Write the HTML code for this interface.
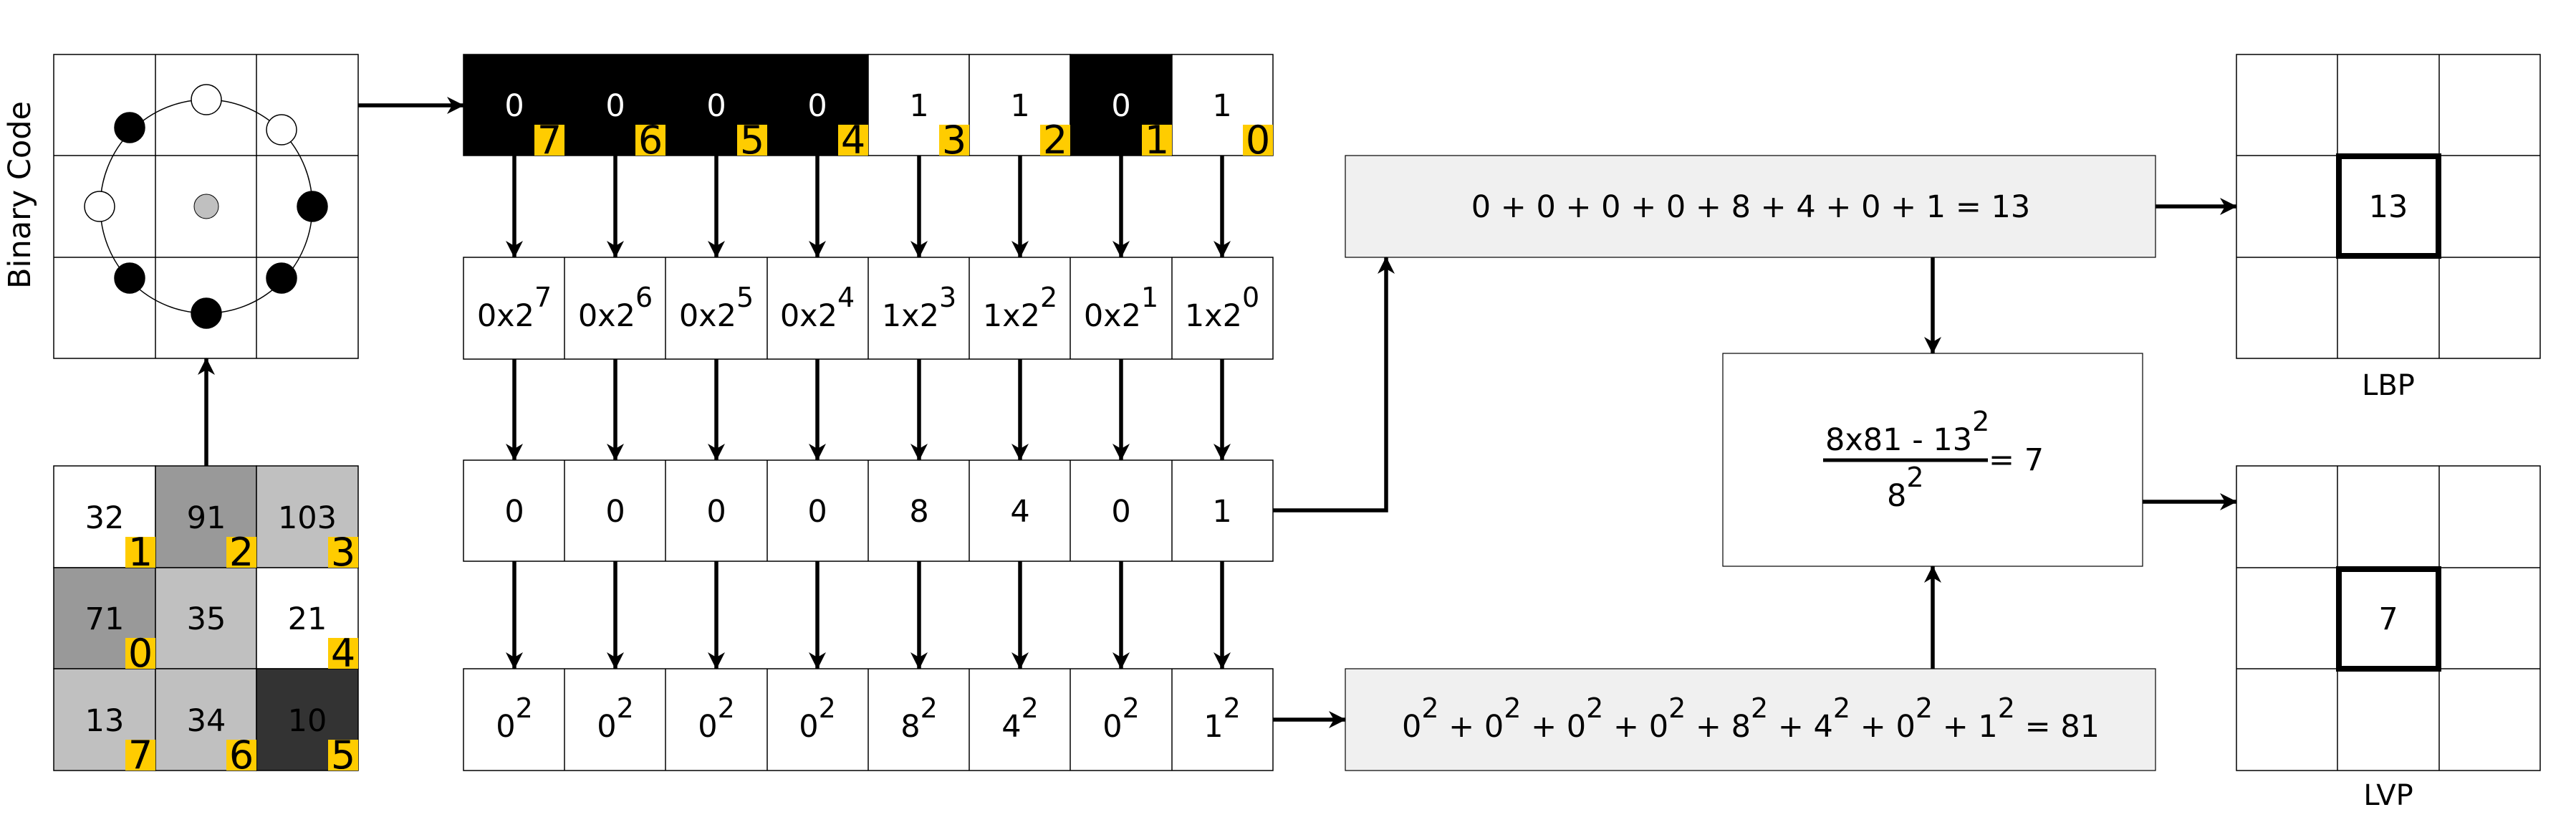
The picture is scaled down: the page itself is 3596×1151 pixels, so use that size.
<!DOCTYPE html>
<html><head><meta charset="utf-8"><style>
html,body{margin:0;padding:0;background:#fff;}
svg{display:block;}
text{font-family:"DejaVu Sans","Liberation Sans",sans-serif;}
</style></head><body>
<svg width="3596" height="1151" viewBox="0 0 3596 1151" xmlns="http://www.w3.org/2000/svg">
<defs>
<marker id="a" markerUnits="userSpaceOnUse" viewBox="0 0 24 24" markerWidth="24" markerHeight="24" refX="23" refY="12" orient="auto">
<path d="M24,12 L0,0 L7,12 L0,24 Z" fill="#000"/>
</marker>
</defs>

<!-- Binary code grid -->
<g stroke="#000" stroke-width="1.5" fill="none">
<rect x="75" y="76" width="425" height="424" fill="#fff"/>
<line x1="217" y1="76" x2="217" y2="500"/><line x1="358" y1="76" x2="358" y2="500"/>
<line x1="75" y1="217" x2="500" y2="217"/><line x1="75" y1="359" x2="500" y2="359"/>
<ellipse cx="288" cy="288" rx="148" ry="149"/>
</g>
<g stroke="#000" stroke-width="1.5">
<circle cx="288" cy="139" r="21" fill="#fff"/>
<circle cx="181" cy="178" r="21" fill="#000"/>
<circle cx="393" cy="181" r="21" fill="#fff"/>
<circle cx="139" cy="288" r="21" fill="#fff"/>
<circle cx="436" cy="288" r="21" fill="#000"/>
<circle cx="181" cy="388" r="21" fill="#000"/>
<circle cx="288" cy="437" r="21" fill="#000"/>
<circle cx="393" cy="388" r="21" fill="#000"/>
<circle cx="288" cy="288" r="17" fill="#c0c0c0" stroke-width="1"/>
</g>
<text x="58" y="288" font-size="43" text-anchor="middle" transform="rotate(-90 42 288)">Binary Code</text>

<!-- lower pixel grid -->
<g stroke="#000" stroke-width="1.5">
<rect x="75" y="650" width="142" height="142" fill="#fff"/>
<rect x="217" y="650" width="141" height="142" fill="#999"/>
<rect x="358" y="650" width="142" height="142" fill="#c0c0c0"/>
<rect x="75" y="792" width="142" height="141" fill="#999"/>
<rect x="217" y="792" width="141" height="141" fill="#c0c0c0"/>
<rect x="358" y="792" width="142" height="141" fill="#fff"/>
<rect x="75" y="933" width="142" height="142" fill="#c0c0c0"/>
<rect x="217" y="933" width="141" height="142" fill="#c0c0c0"/>
<rect x="358" y="933" width="142" height="142" fill="#333"/>
</g>
<g font-size="43" text-anchor="middle">
<text x="146" y="737">32</text><text x="288" y="737">91</text><text x="429" y="737">103</text>
<text x="146" y="878">71</text><text x="288" y="878">35</text><text x="429" y="878">21</text>
<text x="146" y="1020">13</text><text x="288" y="1020">34</text><text x="429" y="1020">10</text>
</g>
<g fill="#ffcc00">
<rect x="175" y="749" width="42" height="43"/><rect x="316" y="749" width="42" height="43"/><rect x="458" y="749" width="42" height="43"/>
<rect x="175" y="890" width="42" height="43"/><rect x="458" y="890" width="42" height="43"/>
<rect x="175" y="1032" width="42" height="43"/><rect x="316" y="1032" width="42" height="43"/><rect x="458" y="1032" width="42" height="43"/>
</g>
<g font-size="54" text-anchor="middle">
<text x="196" y="789">1</text><text x="337" y="789">2</text><text x="479" y="789">3</text>
<text x="196" y="930">0</text><text x="479" y="930">4</text>
<text x="196" y="1072">7</text><text x="337" y="1072">6</text><text x="479" y="1072">5</text>
</g>

<!-- binary row -->
<g stroke="#000" stroke-width="1.5">
<rect x="647" y="76" width="565" height="141" fill="#000"/>
<rect x="1212" y="76" width="141" height="141" fill="#fff"/>
<rect x="1353" y="76" width="141" height="141" fill="#fff"/>
<rect x="1494" y="76" width="142" height="141" fill="#000"/>
<rect x="1636" y="76" width="141" height="141" fill="#fff"/>
</g>
<g font-size="43" text-anchor="middle">
<text x="718" y="162" fill="#fff">0</text><text x="859" y="162" fill="#fff">0</text><text x="1000" y="162" fill="#fff">0</text><text x="1141" y="162" fill="#fff">0</text>
<text x="1283" y="162">1</text><text x="1424" y="162">1</text><text x="1565" y="162" fill="#fff">0</text><text x="1706" y="162">1</text>
</g>
<g fill="#ffcc00">
<rect x="746" y="174" width="42" height="43"/><rect x="887" y="174" width="42" height="43"/><rect x="1029" y="174" width="42" height="43"/><rect x="1170" y="174" width="42" height="43"/>
<rect x="1311" y="174" width="42" height="43"/><rect x="1452" y="174" width="42" height="43"/><rect x="1594" y="174" width="42" height="43"/><rect x="1735" y="174" width="42" height="43"/>
</g>
<g font-size="54" text-anchor="middle">
<text x="767" y="214">7</text><text x="908" y="214">6</text><text x="1050" y="214">5</text><text x="1191" y="214">4</text>
<text x="1332" y="214">3</text><text x="1473" y="214">2</text><text x="1615" y="214">1</text><text x="1756" y="214">0</text>
</g>

<!-- rows 2-4 cells -->
<g stroke="#000" stroke-width="1.5" fill="#fff">
<rect x="647" y="359" width="1130" height="142"/>
<rect x="647" y="642" width="1130" height="141"/>
<rect x="647" y="933" width="1130" height="142"/>
</g>
<g stroke="#000" stroke-width="1.5">
<path d="M788,359V501M929,359V501M1071,359V501M1212,359V501M1353,359V501M1494,359V501M1636,359V501"/>
<path d="M788,642V783M929,642V783M1071,642V783M1212,642V783M1353,642V783M1494,642V783M1636,642V783"/>
<path d="M788,933V1075M929,933V1075M1071,933V1075M1212,933V1075M1353,933V1075M1494,933V1075M1636,933V1075"/>
</g>
<g font-size="43" text-anchor="middle">
<text x="718" y="455">0x2<tspan font-size="38" dy="-27">7</tspan></text>
<text x="859" y="455">0x2<tspan font-size="38" dy="-27">6</tspan></text>
<text x="1000" y="455">0x2<tspan font-size="38" dy="-27">5</tspan></text>
<text x="1141" y="455">0x2<tspan font-size="38" dy="-27">4</tspan></text>
<text x="1283" y="455">1x2<tspan font-size="38" dy="-27">3</tspan></text>
<text x="1424" y="455">1x2<tspan font-size="38" dy="-27">2</tspan></text>
<text x="1565" y="455">0x2<tspan font-size="38" dy="-27">1</tspan></text>
<text x="1706" y="455">1x2<tspan font-size="38" dy="-27">0</tspan></text>

<text x="718" y="728">0</text><text x="859" y="728">0</text><text x="1000" y="728">0</text><text x="1141" y="728">0</text>
<text x="1283" y="728">8</text><text x="1424" y="728">4</text><text x="1565" y="728">0</text><text x="1706" y="728">1</text>

<text x="718" y="1028">0<tspan font-size="38" dy="-27">2</tspan></text>
<text x="859" y="1028">0<tspan font-size="38" dy="-27">2</tspan></text>
<text x="1000" y="1028">0<tspan font-size="38" dy="-27">2</tspan></text>
<text x="1141" y="1028">0<tspan font-size="38" dy="-27">2</tspan></text>
<text x="1283" y="1028">8<tspan font-size="38" dy="-27">2</tspan></text>
<text x="1424" y="1028">4<tspan font-size="38" dy="-27">2</tspan></text>
<text x="1565" y="1028">0<tspan font-size="38" dy="-27">2</tspan></text>
<text x="1706" y="1028">1<tspan font-size="38" dy="-27">2</tspan></text>
</g>

<!-- grey boxes -->
<rect x="1878" y="217" width="1131" height="142" fill="#f0f0f0" stroke="#000" stroke-width="1.2"/>
<text x="2444" y="303" font-size="43" text-anchor="middle">0 + 0 + 0 + 0 + 8 + 4 + 0 + 1 = 13</text>
<rect x="1878" y="933" width="1131" height="142" fill="#f0f0f0" stroke="#000" stroke-width="1.2"/>
<text x="2444" y="1028" font-size="43" text-anchor="middle">0<tspan font-size="38" dy="-27">2</tspan><tspan dy="27"> + 0</tspan><tspan font-size="38" dy="-27">2</tspan><tspan dy="27"> + 0</tspan><tspan font-size="38" dy="-27">2</tspan><tspan dy="27"> + 0</tspan><tspan font-size="38" dy="-27">2</tspan><tspan dy="27"> + 8</tspan><tspan font-size="38" dy="-27">2</tspan><tspan dy="27"> + 4</tspan><tspan font-size="38" dy="-27">2</tspan><tspan dy="27"> + 0</tspan><tspan font-size="38" dy="-27">2</tspan><tspan dy="27"> + 1</tspan><tspan font-size="38" dy="-27">2</tspan><tspan dy="27"> = 81</tspan></text>

<!-- formula box -->
<rect x="2405" y="493" width="586" height="297" fill="#fff" stroke="#000" stroke-width="1.2"/>
<text x="2548" y="628" font-size="43">8x81 - 13<tspan font-size="38" dy="-27">2</tspan></text>
<line x1="2545" y1="642" x2="2775" y2="642" stroke="#000" stroke-width="5"/>
<text x="2776" y="656" font-size="43">= 7</text>
<text x="2634" y="706" font-size="43">8<tspan font-size="38" dy="-27">2</tspan></text>

<!-- LBP / LVP grids -->
<g stroke="#000" stroke-width="1.5" fill="none">
<rect x="3122" y="76" width="424" height="424"/>
<path d="M3263,76V500M3405,76V500M3122,217H3546M3122,359H3546"/>
<rect x="3122" y="650" width="424" height="425"/>
<path d="M3263,650V1075M3405,650V1075M3122,792H3546M3122,933H3546"/>
</g>
<rect x="3265" y="218" width="139" height="139" fill="none" stroke="#000" stroke-width="8"/>
<rect x="3265" y="794" width="139" height="139" fill="none" stroke="#000" stroke-width="8"/>
<text x="3334" y="303" font-size="43" text-anchor="middle">13</text>
<text x="3334" y="878" font-size="43" text-anchor="middle">7</text>
<text x="3334" y="551" font-size="40" text-anchor="middle">LBP</text>
<text x="3334" y="1123" font-size="40" text-anchor="middle">LVP</text>

<!-- arrows -->
<g stroke="#000" stroke-width="5.5" fill="none" marker-end="url(#a)">
<path d="M500,147H647"/>
<path d="M288,650V500"/>
<path d="M718,217V359"/><path d="M859,217V359"/><path d="M1000,217V359"/><path d="M1141,217V359"/>
<path d="M1283,217V359"/><path d="M1424,217V359"/><path d="M1565,217V359"/><path d="M1706,217V359"/>
<path d="M718,501V642"/><path d="M859,501V642"/><path d="M1000,501V642"/><path d="M1141,501V642"/>
<path d="M1283,501V642"/><path d="M1424,501V642"/><path d="M1565,501V642"/><path d="M1706,501V642"/>
<path d="M718,783V933"/><path d="M859,783V933"/><path d="M1000,783V933"/><path d="M1141,783V933"/>
<path d="M1283,783V933"/><path d="M1424,783V933"/><path d="M1565,783V933"/><path d="M1706,783V933"/>
<path d="M1777,712H1935V359"/>
<path d="M1777,1004H1878"/>
<path d="M2698,359V493"/>
<path d="M2698,933V790"/>
<path d="M3009,288H3122"/>
<path d="M2991,700H3122"/>
</g>
</svg>
</body></html>
